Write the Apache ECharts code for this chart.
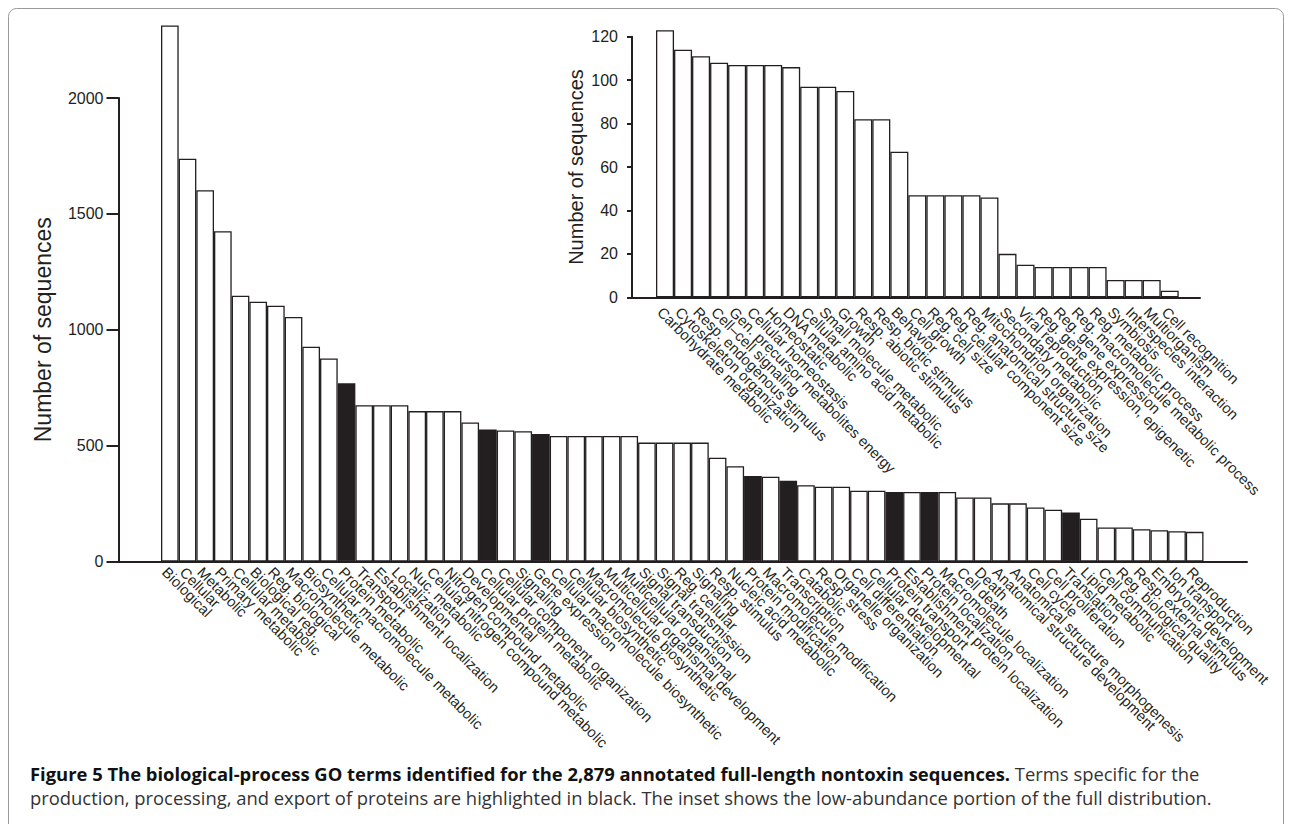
<!DOCTYPE html>
<html>
<head>
<meta charset="utf-8">
<script src="https://cdn.jsdelivr.net/npm/echarts@6/dist/echarts.min.js"></script>
<style>
html,body{margin:0;padding:0;background:#ffffff;}
#chart{width:1292px;height:824px;}
</style>
</head>
<body>
<div id="chart"></div>
<script>
// ---------- DATA ----------
const mainCategories = [
  'Biological','Cellular','Metabolic','Primary metabolic','Cellular metabolic',
  'Biological reg.','Reg. biological','Macromolecule metabolic','Biosynthetic',
  'Cellular macromolecule metabolic','Protein metabolic','Transport',
  'Establishment localization','Localization','Nuc. metabolic',
  'Cellular nitrogen compound metabolic','Nitrogen compound metabolic','Developmental',
  'Cellular protein metabolic','Cellular component organization','Signaling',
  'Gene expression','Cellular macromolecule biosynthetic','Cellular biosynthetic',
  'Macromolecule biosynthetic','Multicellular organismal development',
  'Multicellular organismal','Signal transduction','Signal transmission',
  'Reg. cellular','Signaling','Resp. stimulus','Nucleic acid metabolic',
  'Protein modification','Macromolecule modification','Transcription','Catabolic',
  'Resp. stress','Organelle organization','Cell differentiation',
  'Cellular developmental','Protein transport','Establishment protein localization',
  'Protein localization','Macromolecule localization','Cell death','Death',
  'Anatomical structure development','Anatomical structure morphogenesis',
  'Cell cycle','Cell proliferation','Translation','Lipid metabolic',
  'Cell communication','Reg. biological quality','Resp. external stimulus',
  'Embryonic development','Ion transport','Reproduction'
];
const mainValues = [
  2313,1738,1602,1425,1147,
  1121,1104,1055,927,
  876,769,674,
  674,674,649,
  649,649,600,
  570,565,562,
  550,542,542,
  542,542,
  542,513,513,
  513,513,448,411,
  369,366,348,329,
  323,323,305,
  305,300,300,
  300,300,276,276,
  251,251,
  233,223,211,185,
  147,147,139,
  135,131,128
];
// bars drawn in black (protein production / processing / export terms), by position
const mainHighlightedIdx = [10,18,21,33,35,41,43,51];
const mainYTicks = [0,500,1000,1500,2000];

const insetCategories = [
  'Carbohydrate metabolic','Cytoskeleton organization','Resp. endogenous stimulus',
  'Cell\u2013cell signaling','Gen. precursor metabolites energy','Cellular homeostasis',
  'Homeostatic','DNA metabolic','Cellular amino acid metabolic','Small molecule metabolic',
  'Growth','Resp. abiotic stimulus','Resp. biotic stimulus','Behavior','Cell growth',
  'Reg. cell size','Reg. cellular component size','Reg. anatomical structure size',
  'Mitochondrion organization','Secondary metabolic','Viral reproduction',
  'Reg. gene expression, epigenetic','Reg. gene expression',
  'Reg. macromolecule metabolic process','Reg. metabolic process','Symbiosis',
  'Interspecies interaction','Multiorganism','Cell recognition'
];
const insetValues = [
  123,114,111,108,107,107,107,106,97,97,
  95,82,82,67,47,47,47,47,46,20,
  15,14,14,14,14,8,8,8,3
];
const insetYTicks = [0,20,40,60,80,100,120];

const yAxisTitle = 'Number of sequences';
const captionBold = 'Figure 5 The biological-process GO terms identified for the 2,879 annotated full-length nontoxin sequences.';
const captionLine1Rest = ' Terms specific for the';
const captionLine2 = 'production, processing, and export of proteins are highlighted in black. The inset shows the low-abundance portion of the full distribution.';

// ---------- STYLE ----------
const INK = '#231f20';
const FONT = '"Liberation Sans", Arial, Helvetica, sans-serif';
const CAPTION_FONT = '"Open Sans", "Noto Sans", sans-serif';

const chart = echarts.init(document.getElementById('chart'), null, {renderer: 'svg'});

function barData(values, blackIdx) {
  return values.map((v, i) => blackIdx.indexOf(i) >= 0
    ? {value: v, itemStyle: {color: INK}}
    : v);
}

// geometry of the two panels
const M = {axisX: 118.5, barLeft: 161, barRight: 1203.5, axisEnd: 1247, top: 98, bottom: 561.5};
const I = {axisX: 632, barLeft: 656, barRight: 1178.7, axisEnd: 1200, top: 36.7, bottom: 297.3};

const valueAxisCommon = (ticks, labelMargin, tickLen, nameGap, nameSize) => ({
  type: 'value',
  min: ticks[0], max: ticks[ticks.length - 1], interval: ticks[1] - ticks[0],
  axisLine: {show: true, lineStyle: {color: INK, width: 2}},
  axisTick: {show: true, length: tickLen, lineStyle: {color: INK, width: 2}},
  axisLabel: {color: INK, fontSize: 16, fontFamily: FONT, margin: labelMargin,
              formatter: (v) => String(v)},
  splitLine: {show: false},
  name: yAxisTitle, nameLocation: 'middle', nameGap: nameGap,
  nameTextStyle: {color: INK, fontSize: nameSize, fontFamily: FONT}
});

const hiddenX = {
  type: 'value', min: 0, max: 1,
  axisLine: {show: true, onZero: false, lineStyle: {color: INK, width: 2}},
  axisTick: {show: false}, axisLabel: {show: false}, splitLine: {show: false}
};

const categoryAxis = (cats, margin) => ({
  type: 'category', data: cats,
  axisLine: {show: false}, axisTick: {show: false},
  axisLabel: {
    interval: 0, rotate: -45, align: 'left', verticalAlign: 'top',
    margin: margin, color: INK, fontSize: 14.8, fontFamily: FONT
  }
});

const hiddenY = (ticks) => ({
  type: 'value', show: false, min: ticks[0], max: ticks[ticks.length - 1]
});

const barSeries = (xi, yi, values, blackIdx) => ({
  type: 'bar', xAxisIndex: xi, yAxisIndex: yi,
  data: barData(values, blackIdx),
  barCategoryGap: '0%', barGap: '0%', clip: false,
  itemStyle: {color: '#ffffff', borderColor: INK, borderWidth: 1.3},
  emphasis: {disabled: true}, silent: true, animation: false
});

const option = {
  animation: false,
  backgroundColor: '#ffffff',
  title: {
    left: 30, top: 761, padding: 0,
    text: '{b|' + captionBold + '}{n|' + captionLine1Rest + '}\n{n|' + captionLine2 + '}',
    textStyle: {
      rich: {
        b: {fontFamily: CAPTION_FONT, fontWeight: 'bold', fontSize: 18.4, color: '#111111', lineHeight: 24},
        n: {fontFamily: CAPTION_FONT, fontWeight: 'normal', fontSize: 18.4, color: '#333333', lineHeight: 24}
      }
    }
  },
  graphic: [{
    type: 'rect', silent: true,
    shape: {x: 8.5, y: 8.5, width: 1275, height: 830, r: 8},
    style: {fill: 'none', stroke: '#9a9a9a', lineWidth: 1}
  }],
  grid: [
    {left: M.axisX, top: M.top, width: M.axisEnd - M.axisX, height: M.bottom - M.top},
    {left: M.barLeft, top: M.top, width: M.barRight - M.barLeft, height: M.bottom - M.top},
    {left: I.axisX, top: I.top, width: I.axisEnd - I.axisX, height: I.bottom - I.top},
    {left: I.barLeft, top: I.top, width: I.barRight - I.barLeft, height: I.bottom - I.top}
  ],
  xAxis: [
    Object.assign({gridIndex: 0}, hiddenX),
    Object.assign({gridIndex: 1}, categoryAxis(mainCategories, 3)),
    Object.assign({gridIndex: 2}, hiddenX),
    Object.assign({gridIndex: 3}, categoryAxis(insetCategories, 7))
  ],
  yAxis: [
    Object.assign({gridIndex: 0}, valueAxisCommon(mainYTicks, 15, 12, 64, 23)),
    Object.assign({gridIndex: 1}, hiddenY(mainYTicks)),
    Object.assign({gridIndex: 2}, valueAxisCommon(insetYTicks, 14, 5, 46, 20)),
    Object.assign({gridIndex: 3}, hiddenY(insetYTicks))
  ],
  series: [
    barSeries(1, 1, mainValues, mainHighlightedIdx),
    barSeries(3, 3, insetValues, [])
  ]
};
chart.setOption(option);
</script>
</body>
</html>
